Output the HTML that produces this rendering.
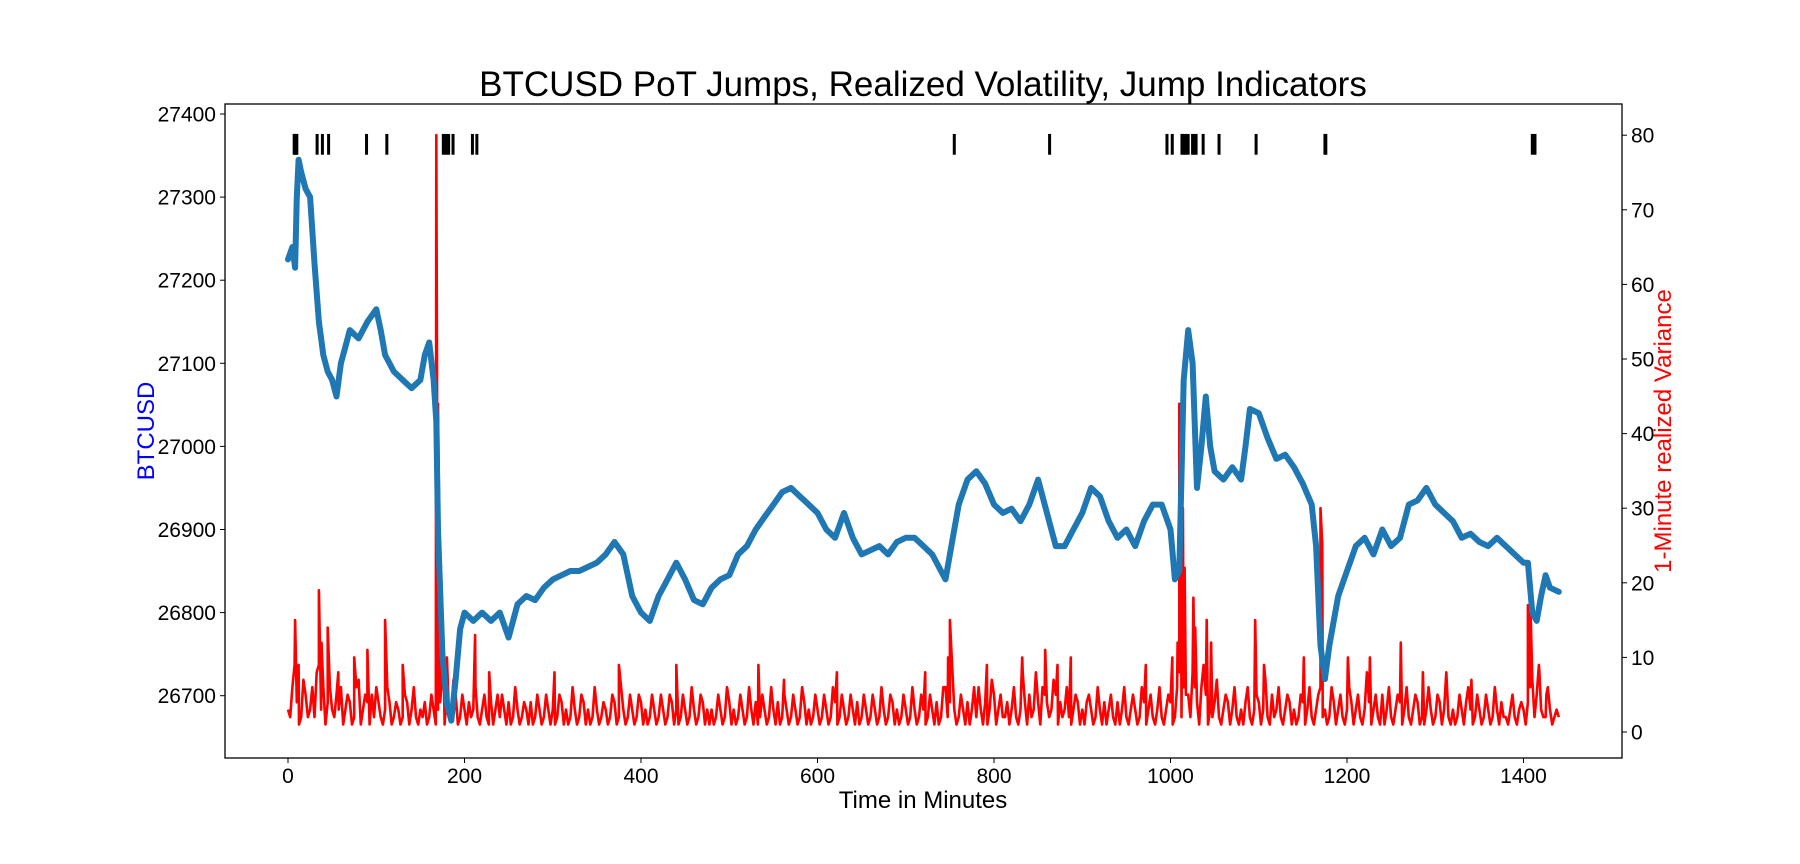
<!DOCTYPE html>
<html><head><meta charset="utf-8"><style>
body{margin:0;background:#fff;}
svg{display:block;font-family:"Liberation Sans",Arial,sans-serif;}
</style></head><body>
<svg id="chart" width="1800" height="864">
<text x="923" y="96" font-size="35" text-anchor="middle">BTCUSD PoT Jumps, Realized Volatility, Jump Indicators</text>
<g id="plot"></g>
<rect x="225" y="104" width="1397" height="654" fill="none" stroke="#000" stroke-width="1.3"/>
<g id="axes"></g>
<text x="923" y="808" font-size="24" text-anchor="middle">Time in Minutes</text>
<text transform="translate(154,431) rotate(-90)" font-size="24" fill="#0000ff" text-anchor="middle">BTCUSD</text>
<text transform="translate(1671,431) rotate(-90)" font-size="24" fill="#ff0000" text-anchor="middle">1-Minute realized Variance</text>
</svg>
<script>
const priceTimes=[0,5,8,10,12,15,20,25,30,35,40,45,50,55,60,65,70,80,90,100,105,110,120,130,140,150,155,160,165,168,170,175,180,185,190,195,200,210,220,230,240,250,260,270,280,290,300,310,320,330,340,350,360,370,380,390,400,410,420,430,440,450,460,470,480,490,500,510,520,530,540,550,560,570,580,590,600,610,620,630,640,650,660,670,680,690,700,710,720,730,740,745,750,760,770,780,790,800,810,820,830,840,850,860,870,880,890,900,910,920,930,940,950,960,970,980,990,1000,1005,1010,1015,1020,1025,1030,1035,1040,1045,1050,1060,1070,1080,1085,1090,1100,1110,1120,1130,1140,1150,1160,1165,1170,1175,1180,1190,1200,1210,1220,1230,1240,1250,1260,1270,1280,1290,1300,1310,1320,1330,1340,1350,1360,1370,1380,1390,1400,1405,1410,1415,1420,1425,1430,1440];
const priceValues=[27225,27240,27215,27300,27345,27330,27310,27300,27220,27150,27110,27090,27080,27060,27100,27120,27140,27130,27150,27165,27140,27110,27090,27080,27070,27080,27110,27125,27080,27030,26900,26750,26690,26670,26720,26780,26800,26790,26800,26790,26800,26770,26810,26820,26815,26830,26840,26845,26850,26850,26855,26860,26870,26885,26870,26820,26800,26790,26820,26840,26860,26840,26815,26810,26830,26840,26845,26870,26880,26900,26915,26930,26945,26950,26940,26930,26920,26900,26890,26920,26890,26870,26875,26880,26870,26885,26890,26890,26880,26870,26850,26840,26870,26930,26960,26970,26955,26930,26920,26925,26910,26930,26960,26920,26880,26880,26900,26920,26950,26940,26910,26890,26900,26880,26910,26930,26930,26900,26840,26850,27080,27140,27100,26950,27000,27060,27000,26970,26960,26975,26960,27000,27045,27040,27010,26985,26990,26975,26955,26930,26880,26760,26720,26760,26820,26850,26880,26890,26870,26900,26880,26890,26930,26935,26950,26930,26920,26910,26890,26895,26885,26880,26890,26880,26870,26860,26860,26800,26790,26820,26845,26830,26825];
const varBase=[3,6,4,2,5,3,2,9,6,4,3,5, 6,3,4,2,7,3,4,5,6,2,3,4, 2,3,2,4,3,2,3,4,2,3,3,8, 6,3,5,2,3,4,3,2,3,2,4,3, 2,3,4,2,3,2,3,4,2,3,2,3, 3,2,4,3,2,3,2,4,3,2,3,2, 3,2,4,2,3,2,3,2,4,3,2,3, 2,3,2,4,3,2,3,2,3,2,4,3, 3,2,3,2,4,3,2,3,2,3,4,2, 3,2,3,4,2,3,2,3,2,4,3,2, 3,2,3,2,4,2,3,2,3,4,2,3, 2,3,2,3,2,4,3,2,3,2,3,2, 3,2,3,4,2,6,4,3,2,3,4,3, 2,3,4,3,5,3,2,4,3,2,3,4, 5,3,4,6,4,3,5,4,3,2,3,4, 3,4,3,2,3,4,3,2,4,3,2,3, 3,2,4,3,2,3,2,3,4,2,8,6, 5,8,4,6,5,3,4,2,3,4,3,2, 3,4,2,3,4,3,2,5,3,2,3,4, 3,2,4,3,2,3,6,3,2,4,3,2, 3,4,3,2,3,4,3,2,5,3,2,3, 4,3,2,3,4,2,3,3,2,4,3,2, 3,2,3,4,3,2,3,2,3,2,3,4, 2,3,2,3,3,4,7,5,3,2,3,2, 2];
const varMid=[2,9,1,7,2,6,8,3,1,6,2,3, 1,5,1,6,1,5,1,2,4,1,6,1, 4,1,5,1,6,1,2,1,5,1,4,1, 2,7,1,5,1,2,6,1,5,1,1,5, 5,1,1,6,1,4,1,1,5,1,5,1, 1,5,1,1,6,1,5,1,1,6,1,4, 1,5,1,6,1,5,1,5,1,1,5,1, 5,1,5,1,1,5,1,6,1,5,1,1, 1,5,1,6,1,1,5,1,6,1,1,5, 1,6,1,1,5,1,5,1,6,1,1,5, 1,5,1,6,1,5,1,5,1,1,5,1, 5,1,6,1,5,1,1,5,1,6,1,5, 1,5,1,1,6,2,9,1,5,1,1,6, 6,1,1,7,1,5,2,1,6,1,8,1, 2,8,1,5,2,7,1,2,6,1,5,1, 1,5,1,6,1,1,5,1,1,6,1,5, 1,6,1,5,1,6,1,5,1,6,2,5, 2,6,1,9,1,2,7,1,5,1,6,1, 1,6,1,5,1,7,1,2,6,1,5,1, 1,5,1,6,1,5,2,1,6,1,5,1, 6,1,5,1,8,1,5,1,1,6,1,5, 1,6,1,5,1,1,6,1,5,1,8,1, 1,5,1,6,1,5,1,5,1,6,1,2, 1,5,1,4,1,6,2,9,2,6,1,3];
const spikeTimes=[8,12,35,38,45,57,75,90,110,130,168,170,172,176,180,212,228,302,375,440,533,562,622,722,748,750,792,832,858,872,887,972,1002,1008,1010,1012,1014,1016,1026,1028,1041,1046,1096,1106,1151,1170,1172,1201,1226,1261,1286,1341,1405,1408,1418,1426];
const spikeValues=[15,9,19,12,14,8,10,11,15,9,80,44,20,12,10,13,8,8,9,9,9,7,8,8,10,15,9,10,11,9,10,9,10,12,44,20,30,22,18,14,15,12,15,9,10,30,25,10,10,12,8,7,17,16,8,5];
const jumpTimes=[7,8,9,10,33,39,46,89,112,176,179,182,187,209,214,755,863,996,1002,1013,1015,1017,1020,1025,1027,1029,1037,1055,1097,1175,1176,1410,1413];
const xTicks=[0,200,400,600,800,1000,1200,1400];
const leftTicks=[26700,26800,26900,27000,27100,27200,27300,27400];
const rightTicks=[0,10,20,30,40,50,60,70,80];

const NS='http://www.w3.org/2000/svg';
const X=t=>288+0.8825*t;
const YL=v=>114+(27400-v)*0.831;
const YR=v=>732-v*7.46;
const plot=document.getElementById('plot'), axes=document.getElementById('axes');
function mk(tag,attrs,parent){const e=document.createElementNS(NS,tag);for(const k in attrs)e.setAttribute(k,attrs[k]);parent.appendChild(e);return e;}

let pts=varBase.map((v,i)=>[i*5,v]);
varMid.forEach((v,i)=>pts.push([i*5+2.5,v]));
spikeTimes.forEach((t,i)=>pts.push([t,spikeValues[i]]));
pts.sort((a,b)=>a[0]-b[0]);
const vl=mk('polyline',{points:pts.map(p=>X(p[0]).toFixed(1)+','+YR(p[1]).toFixed(1)).join(' '),fill:'none',stroke:'#ff0000','stroke-width':2.6,'stroke-linejoin':'round'},plot);



const pl=mk('polyline',{points:priceTimes.map((t,i)=>X(t).toFixed(1)+','+YL(priceValues[i]).toFixed(1)).join(' '),fill:'none',stroke:'#1f77b4','stroke-width':6,'stroke-linejoin':'round','stroke-linecap':'round'},plot);



jumpTimes.forEach(t=>{
  const r=mk('rect',{x:X(t)-1.5,y:YL(27376),width:3,height:YL(27351)-YL(27376),fill:'#000'},plot);
  
  
});

xTicks.forEach(v=>{
  const x=X(v);
  const l=mk('line',{x1:x,x2:x,y1:758,y2:763,stroke:'#000','stroke-width':1},axes);
  
  
  const tx=mk('text',{x:x,y:783,'font-size':21,'text-anchor':'middle'},axes);
  tx.textContent=v;
  
  
});
leftTicks.forEach(v=>{
  const y=YL(v);
  const l=mk('line',{x1:220,x2:225,y1:y,y2:y,stroke:'#000','stroke-width':1},axes);
  
  
  const tx=mk('text',{x:216,y:y+7.5,'font-size':21,'text-anchor':'end'},axes);
  tx.textContent=v;
  
  
});
rightTicks.forEach(v=>{
  const y=YR(v);
  const l=mk('line',{x1:1622,x2:1627,y1:y,y2:y,stroke:'#000','stroke-width':1},axes);
  
  
  const tx=mk('text',{x:1631,y:y+7.5,'font-size':21,'text-anchor':'start'},axes);
  tx.textContent=v;
  
  
});
</script>
</body></html>
